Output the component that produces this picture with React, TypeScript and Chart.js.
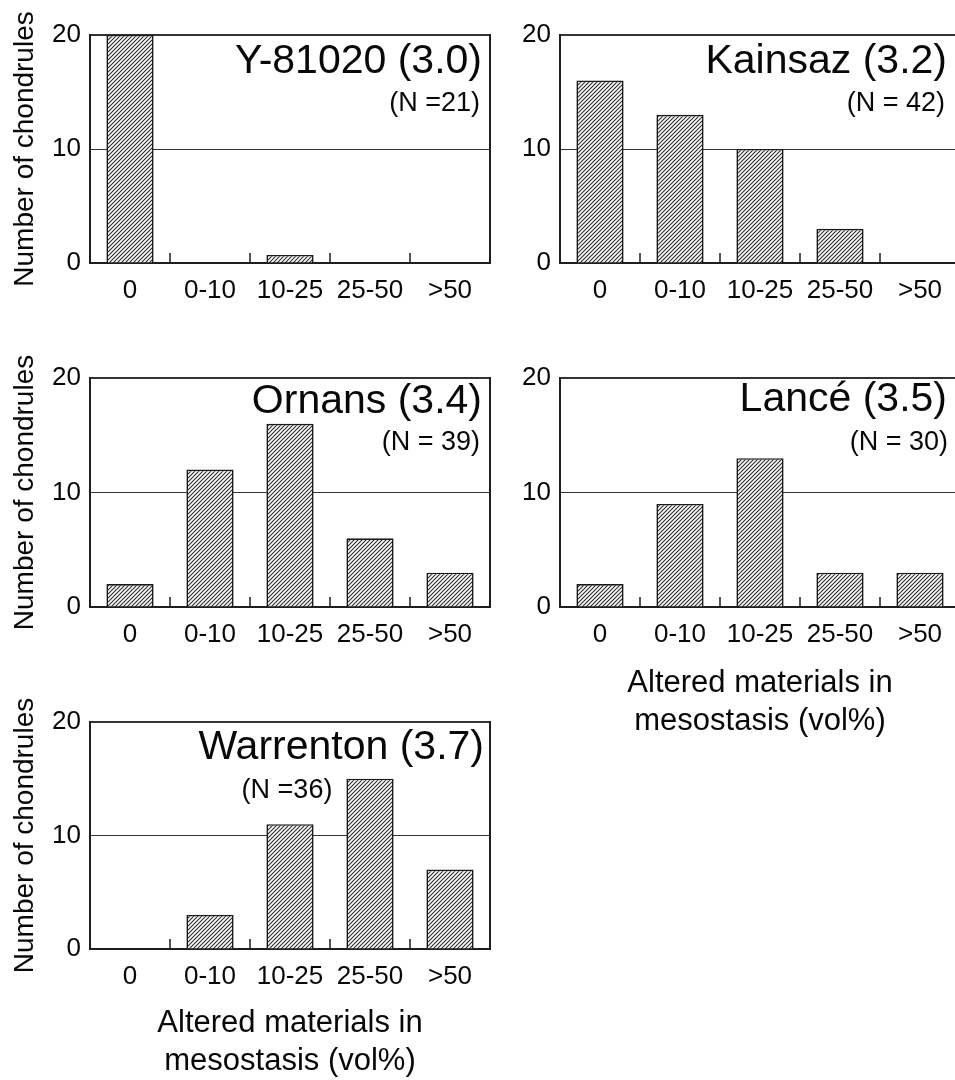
import React, { useEffect, useRef } from 'react';
import { Chart, registerables } from 'chart.js';

Chart.register(...registerables);

// ---- data ----
const categories = ['0', '0-10', '10-25', '25-50', '>50'];
const y81020Counts = [20, 0, 0.7, 0, 0];
const kainsazCounts = [16, 13, 10, 3, 0];
const ornansCounts = [2, 12, 16, 6, 3];
const lanceCounts = [2, 9, 13, 3, 3];
const warrentonCounts = [0, 3, 11, 15, 7];
const yTickValues = [0, 10, 20];
const panelTitles = ['Y-81020 (3.0)', 'Kainsaz (3.2)', 'Ornans (3.4)', 'Lancé (3.5)', 'Warrenton (3.7)'];
const panelNs = ['(N =21)', '(N = 42)', '(N = 39)', '(N = 30)', '(N =36)'];
const yAxisTitle = 'Number of chondrules';
const xAxisTitle = ['Altered materials in', 'mesostasis (vol%)'];

const FONT = "'Liberation Sans', Arial, Helvetica, sans-serif";
const INK = '#080808';

type Box = { left: number; top: number; w: number; h: number };
type Plot = { left: number; top: number; right: number; bottom: number };
type Panel = {
  values: number[];
  idx: number;
  box: Box;
  plot: Plot;
  yTitle: boolean;
  xTitle: boolean;
  xTitlePad: number;
  rightBorder: boolean;
  titleDx: number;
  titleDy: number;
  nMode: 'right' | 'center';
  nDx: number;
  nDy: number;
};

const panels: Panel[] = [
  {
    values: y81020Counts, idx: 0,
    box: { left: 0, top: 0, w: 495, h: 320 },
    plot: { left: 90, top: 35, right: 490, bottom: 263 },
    yTitle: true, xTitle: false, xTitlePad: 0, rightBorder: true,
    titleDx: 8, titleDy: 27, nMode: 'right', nDx: 10, nDy: 69,
  },
  {
    values: kainsazCounts, idx: 1,
    box: { left: 495, top: 0, w: 470, h: 320 },
    plot: { left: 560, top: 35, right: 960, bottom: 263 },
    yTitle: false, xTitle: false, xTitlePad: 0, rightBorder: false,
    titleDx: 13, titleDy: 27, nMode: 'right', nDx: 15, nDy: 69,
  },
  {
    values: ornansCounts, idx: 2,
    box: { left: 0, top: 330, w: 495, h: 330 },
    plot: { left: 90, top: 378, right: 490, bottom: 607 },
    yTitle: true, xTitle: false, xTitlePad: 0, rightBorder: true,
    titleDx: 8, titleDy: 24, nMode: 'right', nDx: 10, nDy: 65,
  },
  {
    values: lanceCounts, idx: 3,
    box: { left: 495, top: 330, w: 470, h: 420 },
    plot: { left: 560, top: 378, right: 960, bottom: 607 },
    yTitle: false, xTitle: true, xTitlePad: 10, rightBorder: false,
    titleDx: 13, titleDy: 22, nMode: 'right', nDx: 12, nDy: 65,
  },
  {
    values: warrentonCounts, idx: 4,
    box: { left: 0, top: 670, w: 495, h: 410 },
    plot: { left: 90, top: 722, right: 490, bottom: 949 },
    yTitle: true, xTitle: true, xTitlePad: 0, rightBorder: true,
    titleDx: 6, titleDy: 26, nMode: 'center', nDx: 197, nDy: 69,
  },
];

function makeHatch(): CanvasPattern | string {
  const tile = document.createElement('canvas');
  tile.width = 4;
  tile.height = 4;
  const c = tile.getContext('2d');
  if (!c) return '#999';
  c.fillStyle = '#ffffff';
  c.fillRect(0, 0, 4, 4);
  c.strokeStyle = '#2e2e2e';
  c.lineWidth = 1.15;
  c.lineCap = 'square';
  c.beginPath();
  c.moveTo(-1, 5); c.lineTo(5, -1);
  c.moveTo(-1, 1); c.lineTo(1, -1);
  c.moveTo(3, 5); c.lineTo(5, 3);
  c.stroke();
  const p = c.createPattern(tile, 'repeat');
  return p || '#999';
}

function PanelChart({ p }: { p: Panel }) {
  const ref = useRef<HTMLCanvasElement | null>(null);

  useEffect(() => {
    const canvas = ref.current;
    if (!canvas) return;
    const { box, plot } = p;

    const decor = {
      id: 'panelDecor',
      afterDatasetsDraw(chart: any) {
        const ctx = chart.ctx as CanvasRenderingContext2D;
        const area = chart.chartArea;
        const xs = chart.scales.x;
        ctx.save();
        ctx.strokeStyle = '#1e1e1e';
        if (p.rightBorder) {
          ctx.lineWidth = 2;
          ctx.beginPath();
          ctx.moveTo(area.right, area.top - 1);
          ctx.lineTo(area.right, area.bottom + 1);
          ctx.stroke();
        }
        ctx.lineWidth = 1.5;
        ctx.beginPath();
        for (let i = 0; i < categories.length - 1; i++) {
          const bx = (xs.getPixelForValue(i) + xs.getPixelForValue(i + 1)) / 2;
          ctx.moveTo(bx, area.bottom);
          ctx.lineTo(bx, area.bottom - 10);
        }
        ctx.stroke();
        ctx.fillStyle = INK;
        ctx.textBaseline = 'middle';
        ctx.textAlign = 'right';
        ctx.font = `41px ${FONT}`;
        ctx.fillText(panelTitles[p.idx], area.right - p.titleDx, area.top + p.titleDy);
        ctx.font = `27px ${FONT}`;
        if (p.nMode === 'right') {
          ctx.textAlign = 'right';
          ctx.fillText(panelNs[p.idx], area.right - p.nDx, area.top + p.nDy);
        } else {
          ctx.textAlign = 'center';
          ctx.fillText(panelNs[p.idx], area.left + p.nDx, area.top + p.nDy);
        }
        ctx.restore();
      },
    };

    const chart = new Chart(canvas, {
      type: 'bar',
      data: {
        labels: categories,
        datasets: [
          {
            data: p.values,
            backgroundColor: makeHatch() as any,
            borderColor: '#1a1a1a',
            borderWidth: 1.6,
            borderSkipped: 'bottom',
            barPercentage: 0.59,
            categoryPercentage: 1,
          },
        ],
      },
      options: {
        responsive: false,
        animation: false,
        devicePixelRatio: 1,
        layout: {
          padding: {
            left: 0,
            top: plot.top - box.top,
            right: box.left + box.w - plot.right,
            bottom: 0,
          },
        },
        plugins: {
          legend: { display: false },
          tooltip: { enabled: false },
          title: { display: false },
        },
        scales: {
          x: {
            type: 'category',
            offset: true,
            grid: { display: false, drawTicks: false },
            border: { display: true, color: '#1e1e1e', width: 2 },
            ticks: {
              color: INK,
              font: { family: FONT, size: 26 },
              padding: 12,
              maxRotation: 0,
              autoSkip: false,
            },
            title: p.xTitle
              ? {
                  display: true,
                  text: xAxisTitle,
                  color: INK,
                  font: { family: FONT, size: 31, lineHeight: 1.22 },
                  padding: { top: 0, bottom: p.xTitlePad },
                }
              : { display: false },
            afterFit: (s: any) => {
              s.height = box.top + box.h - plot.bottom;
            },
          },
          y: {
            min: 0,
            max: 20,
            afterBuildTicks: (s: any) => {
              s.ticks = yTickValues.map((v) => ({ value: v }));
            },
            grid: {
              drawTicks: false,
              color: '#333',
              lineWidth: (c: any) => (c.tick && c.tick.value === 20 ? 2 : 1),
            },
            border: { display: true, color: '#1e1e1e', width: 2 },
            ticks: {
              color: INK,
              font: { family: FONT, size: 26 },
              padding: 9,
            },
            title: p.yTitle
              ? {
                  display: true,
                  text: yAxisTitle,
                  color: INK,
                  font: { family: FONT, size: 28 },
                  padding: { top: 8, bottom: 0 },
                }
              : { display: false },
            afterFit: (s: any) => {
              s.width = plot.left - box.left;
            },
          },
        },
      } as any,
      plugins: [decor],
    });

    return () => {
      chart.destroy();
    };
  }, [p]);

  return (
    <canvas
      ref={ref}
      width={p.box.w}
      height={p.box.h}
      style={{
        position: 'absolute',
        left: p.box.left,
        top: p.box.top,
        width: p.box.w,
        height: p.box.h,
      }}
    />
  );
}

export default function App() {
  return (
    <div
      style={{
        position: 'absolute',
        left: 0,
        top: 0,
        width: 955,
        height: 1080,
        overflow: 'hidden',
        background: '#ffffff',
      }}
    >
      {panels.map((p) => (
        <PanelChart key={p.idx} p={p} />
      ))}
    </div>
  );
}
